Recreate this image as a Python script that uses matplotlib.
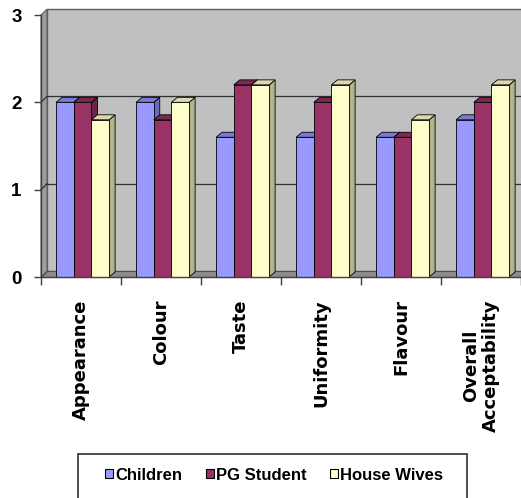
import matplotlib
matplotlib.use("Agg")
import matplotlib.pyplot as plt
from matplotlib.patches import Polygon, Rectangle
from matplotlib.lines import Line2D
import numpy as np

# Sensory scores by attribute and panel group
categories = ["Appearance", "Colour", "Taste", "Uniformity", "Flavour",
              "Overall\nAcceptability"]
series_names = ["Children", "PG Student", "House Wives"]
children = [2.0, 2.0, 1.6, 1.6, 1.6, 1.8]
pg_student = [2.0, 1.8, 2.2, 2.0, 1.6, 2.0]
house_wives = [1.8, 2.0, 2.2, 2.2, 1.8, 2.2]
y_ticks = [0, 1, 2, 3]

front_colors = ["#9999FF", "#993366", "#FFFFCC"]
side_colors = ["#6A6AC0", "#6B2447", "#B3B38F"]
top_colors = ["#7A7AD6", "#7A2950", "#DADAAE"]

W, H, DPI = 521, 498, 100
fig = plt.figure(figsize=(W / DPI, H / DPI), dpi=DPI)
fig.patch.set_facecolor("white")

# axes: front plane of the 3-D box
left_px, right_px, bottom_px, top_px = 41, 521, 277, 15
ax = fig.add_axes([left_px / W, 1 - bottom_px / H,
                   (right_px - left_px) / W, (bottom_px - top_px) / H])
n = len(categories)
ax.set_xlim(0, n)
ax.set_ylim(0, 3)
ax.set_facecolor("none")

# convert pixel depth offsets to data units
px_x = n / (right_px - left_px)
px_y = 3 / (bottom_px - top_px)
wall_dx, wall_dy = 6 * px_x, 6 * px_y
bar_dx, bar_dy = 6 * px_x, 5 * px_y

# back wall, side wall and floor
far = n + 1
ax.add_patch(Polygon([(wall_dx, wall_dy), (far, wall_dy), (far, 3 + wall_dy),
                      (wall_dx, 3 + wall_dy)], closed=True, facecolor="#C0C0C0",
                     edgecolor="#606060", linewidth=1.0, clip_on=False, zorder=0))
ax.add_patch(Polygon([(0, 0), (wall_dx, wall_dy), (wall_dx, 3 + wall_dy), (0, 3)],
                     closed=True, facecolor="#9E9E9E", edgecolor="#606060",
                     linewidth=0.8, clip_on=False, zorder=0.5))
ax.add_patch(Polygon([(0, 0), (far, 0), (far, wall_dy), (wall_dx, wall_dy)],
                     closed=True, facecolor="#8C8C8C", edgecolor="#505050",
                     linewidth=0.8, clip_on=False, zorder=0.5))
for g in y_ticks[1:3]:
    ax.plot([wall_dx, far], [g + wall_dy, g + wall_dy], color="#303030",
            linewidth=0.9, clip_on=False, zorder=0.6)
    ax.plot([0, wall_dx], [g, g + wall_dy], color="#303030",
            linewidth=0.9, clip_on=False, zorder=0.6)

# 3-D columns
all_series = [children, pg_student, house_wives]
bar_w = 0.221
x = np.arange(n)
z = 1
for i in range(n):
    for j, vals in enumerate(all_series):
        cx = x[i] + 0.52 + (j - 1) * bar_w
        v = vals[i]
        x0, x1 = cx - bar_w / 2, cx + bar_w / 2
        ax.add_patch(Polygon([(x1, 0), (x1 + bar_dx, bar_dy), (x1 + bar_dx, v + bar_dy),
                              (x1, v)], closed=True, facecolor=side_colors[j],
                             edgecolor="black", linewidth=0.6, zorder=z,
                             clip_on=False))
        ax.add_patch(Polygon([(x0, v), (x1, v), (x1 + bar_dx, v + bar_dy),
                              (x0 + bar_dx, v + bar_dy)], closed=True,
                             facecolor=top_colors[j], edgecolor="black",
                             linewidth=0.6, zorder=z + 0.1, clip_on=False))
        ax.bar(cx, v, width=bar_w, color=front_colors[j], edgecolor="black",
               linewidth=0.6, zorder=z + 0.2)
        z += 1

# axes lines and ticks
for s in ["top", "right"]:
    ax.spines[s].set_visible(False)
for s in ["left", "bottom"]:
    ax.spines[s].set_color("#404040")
    ax.spines[s].set_linewidth(1.0)
    ax.spines[s].set_zorder(100)

ax.set_yticks(y_ticks)
ax.set_yticklabels([str(t) for t in y_ticks], fontfamily="Liberation Sans",
                   fontweight="bold", fontsize=13.5)
ax.tick_params(axis="y", length=5, width=1.0, color="#404040", pad=9)

ax.set_xticks(np.arange(n + 1))
ax.set_xticklabels([])
ax.tick_params(axis="x", which="major", length=6, width=1.0, color="#404040")
ax.set_xticks(x + 0.5, minor=True)
ax.set_xticklabels(categories, minor=True, rotation=90, fontfamily="DejaVu Sans",
                   fontweight="bold", fontsize=13, linespacing=1.15,
                   multialignment="center")
ax.tick_params(axis="x", which="minor", length=0, pad=16)

# legend
handles = [Rectangle((0, 0), 1, 1, facecolor=c, edgecolor="black", linewidth=0.8)
           for c in front_colors]
leg = fig.legend(handles, series_names, loc="center",
                 bbox_to_anchor=(274 / W, 1 - 475 / H), ncol=3, frameon=False,
                 handlelength=0.5, handleheight=0.5, handletextpad=0.12,
                 columnspacing=1.4,
                 prop={"family": "Liberation Sans", "weight": "bold", "size": 12})

# legend frame (open at the bottom edge of the figure)
lx0, lx1, ly_top = 78 / W, 467 / W, 1 - 454 / H
fig.add_artist(Line2D([lx0, lx0, lx1, lx1], [0, ly_top, ly_top, 0],
                      transform=fig.transFigure, color="#303030", linewidth=1.2,
                      solid_joinstyle="miter"))

fig.savefig("out.png", dpi=DPI)
